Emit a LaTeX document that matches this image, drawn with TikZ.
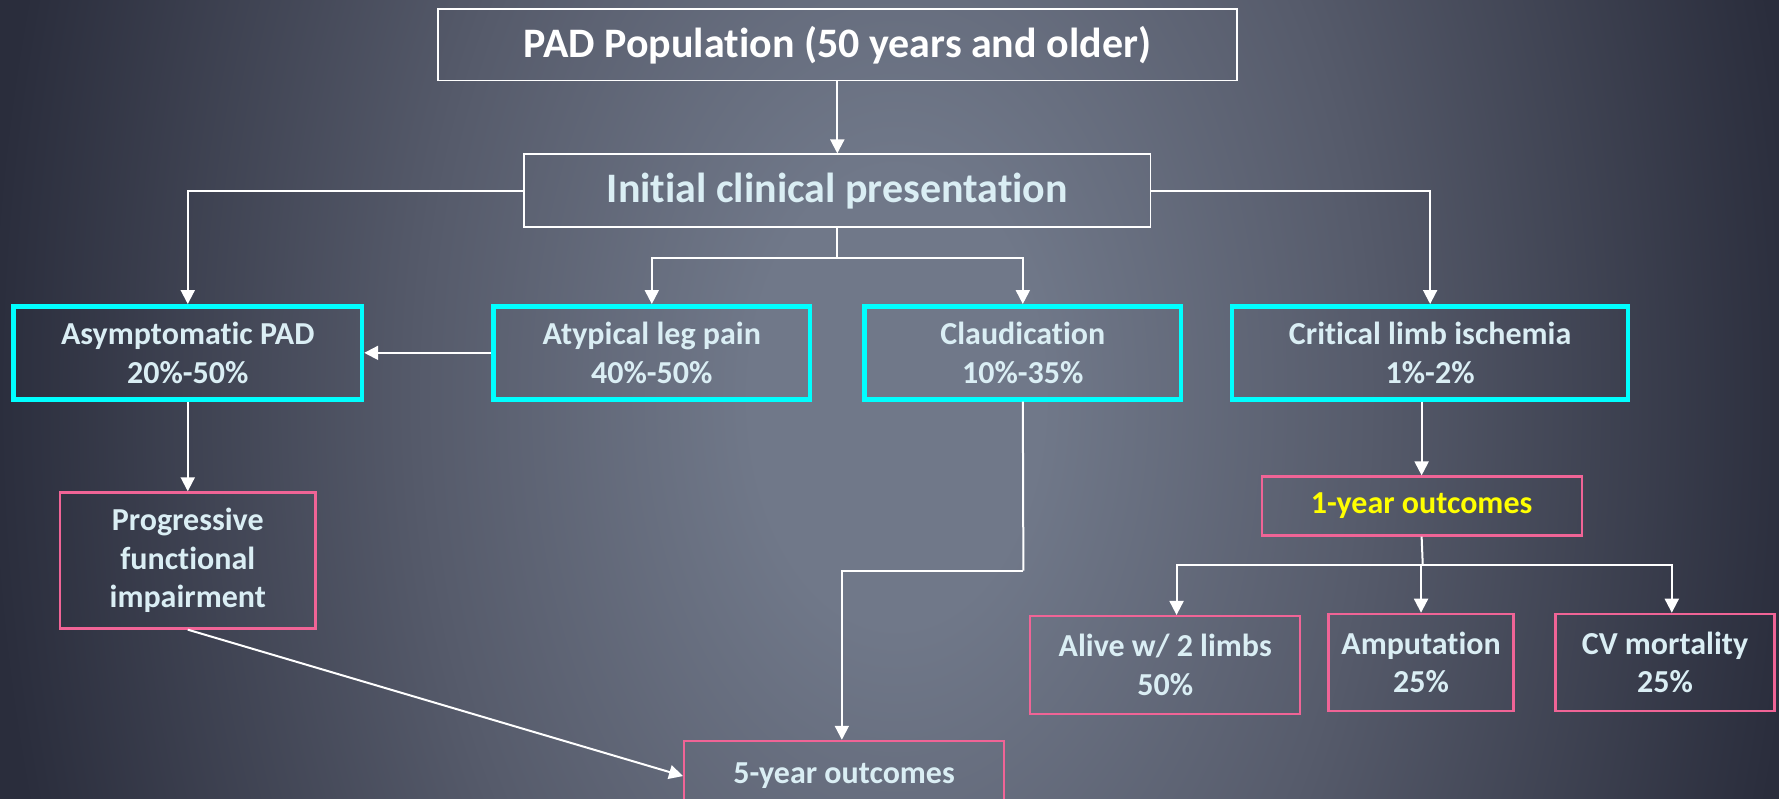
\documentclass[tikz,border=0pt]{standalone}
\usepackage{fontspec}
\setmainfont{Carlito}[Ligatures=CommonOff]
\usetikzlibrary{arrows.meta,calc}

\definecolor{bgin}{RGB}{112,120,137}
\definecolor{bgmid}{RGB}{86,91,107}
\definecolor{bgout}{RGB}{42,45,60}
\definecolor{boxcyan}{RGB}{0,255,255}
\definecolor{boxpink}{RGB}{240,100,150}
\definecolor{txtcol}{RGB}{218,238,244}
\definecolor{txtyellow}{RGB}{255,255,0}

\pgfdeclareradialshading{slidebg}{\pgfpoint{0bp}{0bp}}{color(0bp)=(bgin); color(4bp)=(bgin); color(13bp)=(bgmid); color(25bp)=(bgout); color(50bp)=(bgout)}

\newlength\pxu
\setlength\pxu{0.5673pt}
\newcommand{\bigfont}{\fontsize{21}{25}\selectfont\bfseries}
\newcommand{\boxfont}{\fontsize{16}{19.2}\selectfont\bfseries}

\tikzset{
  topbox/.style={draw=white, line width=0.9pt, inner sep=0pt, font=\bigfont},
  groupbox/.style={draw=boxcyan, line width=2.3pt, inner sep=0pt, align=center, text=txtcol, font=\boxfont},
  outbox/.style={draw=boxpink, line width=1.1pt, inner sep=0pt, align=center, text=txtcol, font=\boxfont},
  link/.style={draw=white, line width=1pt, -{Triangle[length=7pt,width=7pt]}},
  plain/.style={draw=white, line width=1pt}
}

\begin{document}
\begin{tikzpicture}[x=\pxu, y=-\pxu]
    % slide background
    \useasboundingbox (0,0) rectangle (1568,704);
    \clip (0,0) rectangle (1568,704);
    \shade[shading=slidebg] (-10,-900) rectangle (1590,1600);

    % top boxes
    \node[topbox, minimum width=704\pxu, minimum height=63\pxu, text=white] (pop) at (738,39.5) {PAD Population (50 years and older)};
    \node[topbox, minimum width=552\pxu, minimum height=64\pxu, text=txtcol] (init) at (738,168) {Initial clinical presentation};

    % initial presentation groups
    \node[groupbox, minimum width=307\pxu, minimum height=82\pxu] (asym) at (165.5,311) {Asymptomatic PAD\\20\%-50\%};
    \node[groupbox, minimum width=279\pxu, minimum height=82\pxu] (atyp) at (574.5,311) {Atypical leg pain\\40\%-50\%};
    \node[groupbox, minimum width=279\pxu, minimum height=82\pxu] (claud) at (901.5,311) {Claudication\\10\%-35\%};
    \node[groupbox, minimum width=349\pxu, minimum height=82\pxu] (crit) at (1260.5,311) {Critical limb ischemia\\1\%-2\%};

    % outcome boxes
    \node[outbox, minimum width=225\pxu, minimum height=120\pxu] (prog) at (165.5,494) {Progressive\\functional\\impairment};
    \node[outbox, minimum width=282\pxu, minimum height=62\pxu] (five) at (744,684) {5-year outcomes};
    \node[outbox, minimum width=282\pxu, minimum height=52\pxu, text=txtyellow] (one) at (1253,446) {1-year outcomes};
    \node[outbox, minimum width=238\pxu, minimum height=86\pxu] (alive) at (1027,586) {Alive w/ 2 limbs\\50\%};
    \node[outbox, minimum width=163\pxu, minimum height=86\pxu] (amp) at (1252.5,584) {Amputation\\25\%};
    \node[outbox, minimum width=193\pxu, minimum height=86\pxu] (cv) at (1467.5,584) {CV mortality\\25\%};

    % branch points
    \coordinate (split1) at (738,227);
    \coordinate (split2) at (902,503);
    \coordinate (split3) at (1254,498);

    % arrows from the top
    \draw[link] (pop) -- (init);
    \draw[link] (init.west) -| (asym.north);
    \draw[link] (init.east) -| (crit.north);
    \draw[plain] (init.south) -- (split1);
    \draw[link] (split1) -| (atyp.north);
    \draw[link] (split1) -| (claud.north);
    \draw[link] (atyp.west) -- (asym.east);

    % arrows to 5-year outcomes
    \draw[link] (asym.south) -- (prog.north);
    \draw[link] (prog.south) -- (five.west);
    \draw[plain] (claud.south) -- (split2);
    \draw[link] (split2) -| ($(five.north)+(-2,0)$);

    % arrows to 1-year outcomes
    \draw[link] (crit.south -| one.north) -- (one.north);
    \draw[plain] (one.south) -- (split3);
    \draw[link] (split3) -| ($(alive.north)+(10,0)$);
    \draw[link] (split3) -| (amp.north);
    \draw[link] (split3) -| ($(cv.north)+(6,0)$);
\end{tikzpicture}
\end{document}
